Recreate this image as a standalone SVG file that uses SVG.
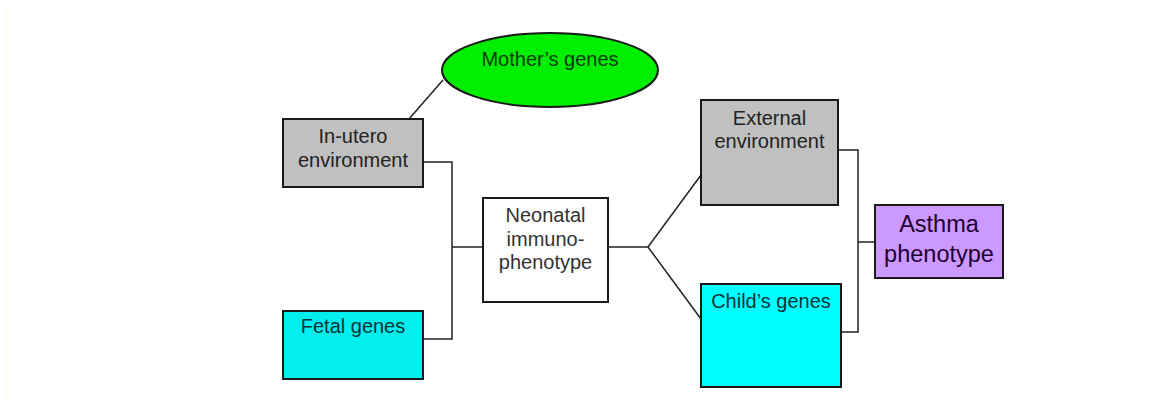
<svg xmlns="http://www.w3.org/2000/svg" width="1150" height="403" viewBox="0 0 1150 403">
<style>
.box{stroke:#1a1a1a;stroke-width:2}
.t{font-family:"Liberation Sans",Arial,sans-serif;font-size:20px;text-anchor:middle}
.big{font-size:23.5px}
.c{fill:none;stroke:#222;stroke-width:1.5}
</style>
<rect width="1150" height="403" fill="#ffffff"/>
<line x1="6.5" y1="7" x2="6.5" y2="397" stroke="#ffffcc" stroke-width="1"/>
<g id="connectors">
<line class="c" x1="409" y1="119" x2="443" y2="80"/>
<polyline class="c" points="423,162 452,162 452,339 423,339"/>
<line class="c" x1="452" y1="247" x2="483" y2="247"/>
<polyline class="c" points="608,247 648,247 701,175"/>
<line class="c" x1="648" y1="247" x2="701" y2="319"/>
<polyline class="c" points="838,150 858,150 858,332 841,332"/>
<line class="c" x1="858" y1="242" x2="875" y2="242"/>
</g>
<g id="mothers-genes">
<ellipse class="box" cx="550" cy="70" rx="108" ry="37" fill="#00ee00"/>
<text class="t" x="550" y="66" fill="#0b3b0b">Mother’s genes</text>
</g>
<g id="in-utero">
<rect class="box" x="283" y="119" width="140" height="68" fill="#c0c0c0"/>
<text class="t" x="353" y="143" fill="#222">In-utero</text>
<text class="t" x="353" y="167" fill="#222">environment</text>
</g>
<g id="fetal-genes">
<rect class="box" x="283" y="311" width="140" height="68" fill="#00eeee"/>
<text class="t" x="353" y="333" fill="#0b3333">Fetal genes</text>
</g>
<g id="neonatal">
<rect class="box" x="483" y="198" width="125" height="104" fill="#ffffff"/>
<text class="t" x="545.5" y="222" fill="#333">Neonatal</text>
<text class="t" x="545.5" y="246" fill="#333">immuno-</text>
<text class="t" x="545.5" y="269" fill="#333">phenotype</text>
</g>
<g id="external">
<rect class="box" x="701" y="100" width="137" height="105" fill="#c0c0c0"/>
<text class="t" x="769.5" y="125" fill="#222">External</text>
<text class="t" x="769.5" y="148" fill="#222">environment</text>
</g>
<g id="childs-genes">
<rect class="box" x="701" y="284" width="140" height="103" fill="#00ffff"/>
<text class="t" x="771" y="308" fill="#0b3333">Child’s genes</text>
</g>
<g id="asthma">
<rect class="box" x="875" y="205" width="128" height="73" fill="#cc99ff"/>
<text class="t big" x="939" y="232" fill="#220033">Asthma</text>
<text class="t big" x="939" y="262" fill="#220033">phenotype</text>
</g>
</svg>
